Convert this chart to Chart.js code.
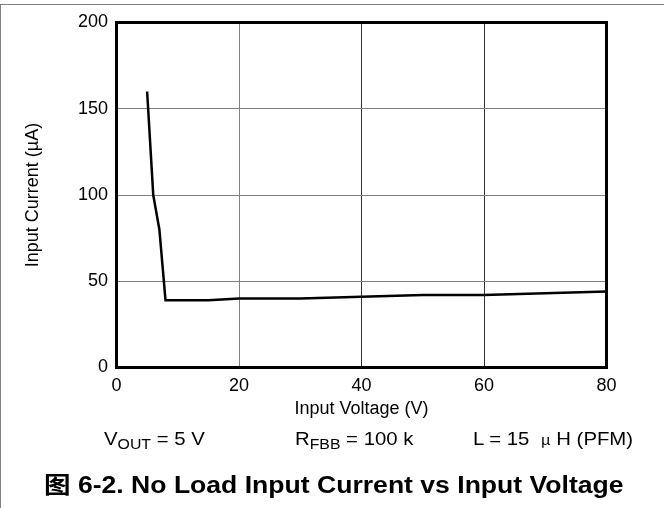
<!DOCTYPE html>
<html lang="zh">
<head>
    <meta charset="UTF-8">
    <title>No Load Input Current vs Input Voltage</title>
    <script src="https://cdn.jsdelivr.net/npm/chart.js"></script>
    <style>
        body {
            margin: 0;
            padding: 0;
            background: #fff;
            font-family: Arial, "Liberation Sans", sans-serif;
        }

        .page {
            position: relative;
            width: 664px;
            height: 508px;
            overflow: hidden;
        }

        .frame {
            position: absolute;
            left: 0;
            top: 4px;
            width: 664px;
            height: 504px;
            border-top: 1px solid #808080;
            border-left: 1px solid #808080;
            box-sizing: border-box;
        }

        canvas {
            position: absolute;
            left: 0;
            top: 0;
        }

        .note {
            position: absolute;
            top: 429px;
            font-size: 18px;
            color: #000;
            white-space: nowrap;
            transform: scaleX(1.13);
            transform-origin: left center;
        }

        .note sub {
            font-size: 14px;
            vertical-align: -4px;
            line-height: 0;
        }

        .mu {
            font-family: "Noto Sans CJK SC", sans-serif;
            font-size: 14px;
        }

        .caption {
            position: absolute;
            left: 44px;
            top: 466px;
            font-size: 23px;
            font-weight: bold;
            white-space: nowrap;
            transform: scaleX(1.155);
            transform-origin: left center;
        }

        .caption .cjk {
            font-family: "Noto Sans CJK SC", sans-serif;
            font-weight: bold;
        }
    </style>
</head>
<body>
<div class="page">
    <div class="frame"></div>
    <canvas id="chart" width="664" height="508"></canvas>

    <div class="note" style="left: 104px;">V<sub>OUT</sub> = 5 V</div>
    <div class="note" style="left: 295px;">R<sub>FBB</sub> = 100 k</div>
    <div class="note" style="left: 473px;">L = 15&nbsp;&nbsp;<span class="mu">μ</span>&nbsp;H (PFM)</div>

    <div class="caption"><span class="cjk">图</span> 6-2. No Load Input Current vs Input Voltage</div>
</div>

<script>
    // values
    const inputVoltage = [5, 6, 7, 8, 15, 20, 30, 40, 50, 60, 80];
    const inputCurrent = [160, 100, 80, 39, 39, 40, 40, 41, 42, 42, 44];

    const xTicks = [0, 20, 40, 60, 80];
    const yTicks = [0, 50, 100, 150, 200];

    const points = inputVoltage.map((v, i) => ({ x: v, y: inputCurrent[i] }));

    // thick black box around the plot area
    const plotFrame = {
        id: "plotFrame",
        afterDraw(chart) {
            const { ctx, chartArea } = chart;
            ctx.save();
            ctx.strokeStyle = "#000";
            ctx.lineWidth = 3;
            ctx.strokeRect(chartArea.left, chartArea.top,
                chartArea.right - chartArea.left, chartArea.bottom - chartArea.top);
            ctx.restore();
        }
    };

    const tickFont = { family: "Arial, 'Liberation Sans', sans-serif", size: 18 };

    new Chart(document.getElementById("chart").getContext("2d"), {
        type: "line",
        data: {
            datasets: [{
                data: points,
                borderColor: "#000",
                borderWidth: 2.5,
                pointRadius: 0,
                tension: 0,
                fill: false
            }]
        },
        options: {
            responsive: false,
            animation: false,
            devicePixelRatio: 1,
            layout: {
                padding: { left: 0, top: 22.5, right: 57.5, bottom: 85.5 }
            },
            plugins: {
                legend: { display: false },
                tooltip: { enabled: false }
            },
            scales: {
                x: {
                    type: "linear",
                    min: xTicks[0],
                    max: xTicks[xTicks.length - 1],
                    afterBuildTicks: axis => { axis.ticks = xTicks.map(v => ({ value: v })); },
                    afterFit: axis => { axis.height = 55; },
                    border: { display: false },
                    grid: {
                        drawTicks: false,
                        lineWidth: 1,
                        color: c => (c.tick && c.tick.value > 20) ? "#333" : "#808080"
                    },
                    ticks: { color: "#000", font: tickFont, padding: 8, maxRotation: 0 },
                    title: {
                        display: true,
                        text: "Input Voltage (V)",
                        color: "#000",
                        font: tickFont,
                        padding: { top: 0, bottom: 3 }
                    }
                },
                y: {
                    min: yTicks[0],
                    max: yTicks[yTicks.length - 1],
                    afterBuildTicks: axis => { axis.ticks = yTicks.map(v => ({ value: v })); },
                    afterFit: axis => { axis.width = 116.5; },
                    border: { display: false },
                    grid: { drawTicks: false, lineWidth: 1, color: "#808080" },
                    ticks: { color: "#000", font: tickFont, padding: 8.5 },
                    title: {
                        display: true,
                        text: "Input Current (µA)",
                        color: "#000",
                        font: tickFont,
                        padding: { top: 22, bottom: 0 }
                    }
                }
            }
        },
        plugins: [plotFrame]
    });
</script>
</body>
</html>
